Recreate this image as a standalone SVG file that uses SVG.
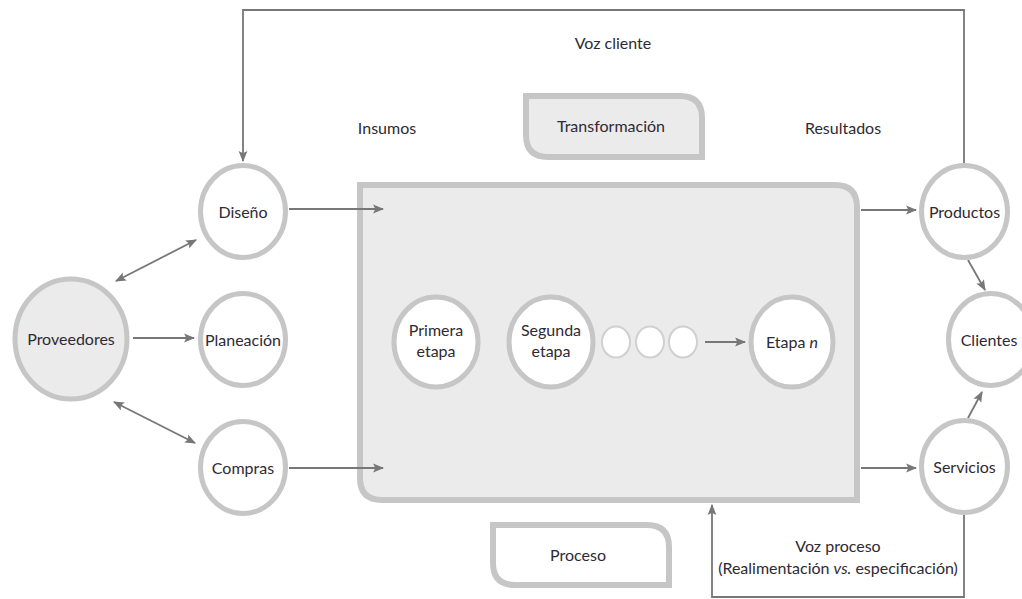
<svg xmlns="http://www.w3.org/2000/svg" width="1022" height="599" viewBox="0 0 1022 599">
  <defs>
    <marker id="ah" viewBox="0 0 10 10" refX="9" refY="5" markerWidth="11" markerHeight="11" markerUnits="userSpaceOnUse" orient="auto-start-reverse">
      <path d="M0,1 L10,5 L0,9 L2,5 Z" fill="#777777"/>
    </marker>
    <style>
      .node { fill: #ffffff; stroke: #c6c6c6; stroke-width: 5; }
      .shaded { fill: #ebebeb; stroke: #c6c6c6; stroke-width: 5; }
      .tag { stroke: #c6c6c6; stroke-width: 6; }
      .dot { fill: #ffffff; stroke: #d0d0d0; stroke-width: 2; }
      .lbl { font-family: Lato, "Liberation Sans", sans-serif; font-size: 16px; fill: #2e2a33; text-anchor: middle; }
      .conn { fill: none; stroke: #777777; stroke-width: 1.8; }
    </style>
  </defs>

  <rect width="1022" height="599" fill="#ffffff"/>

  <!-- transformation process block -->
  <g id="proceso-caja">
    <path class="tag" fill="#ebebeb" d="M360,185 H835 Q857,185 857,207 V500 H382 Q360,500 360,478 Z"/>
  </g>

  <!-- section tags -->
  <g id="transformacion">
    <path class="tag" fill="#ebebeb" d="M526,96 H680 Q702,96 702,118 V157 H548 Q526,157 526,135 Z"/>
    <text class="lbl" x="611" y="132">Transformación</text>
  </g>
  <g id="proceso">
    <path class="tag" fill="#ffffff" d="M493,525 H647 Q669,525 669,547 V585 H515 Q493,585 493,563 Z"/>
    <text class="lbl" x="578" y="561">Proceso</text>
  </g>

  <!-- free labels -->
  <g id="etiquetas">
    <text class="lbl" x="613" y="49">Voz cliente</text>
    <text class="lbl" x="387" y="134">Insumos</text>
    <text class="lbl" x="843" y="134">Resultados</text>
    <text class="lbl" x="838" y="552">Voz proceso</text>
    <text class="lbl" x="838" y="574">(Realimentación <tspan font-style="italic">vs.</tspan> especificación)</text>
  </g>

  <!-- connectors -->
  <g id="conectores">
    <path class="conn" d="M964,165 V10 H243 V161" marker-end="url(#ah)"/>
    <path class="conn" d="M289,209 H383" marker-end="url(#ah)"/>
    <path class="conn" d="M289,468 H383" marker-end="url(#ah)"/>
    <path class="conn" d="M861,210 H916" marker-end="url(#ah)"/>
    <path class="conn" d="M861,468 H916" marker-end="url(#ah)"/>
    <path class="conn" d="M133,338 H194" marker-end="url(#ah)"/>
    <path class="conn" d="M116,281 L196,240" marker-start="url(#ah)" marker-end="url(#ah)"/>
    <path class="conn" d="M114,402 L195,443" marker-start="url(#ah)" marker-end="url(#ah)"/>
    <path class="conn" d="M968,260 L985,290" marker-end="url(#ah)"/>
    <path class="conn" d="M968,418 L982,392" marker-end="url(#ah)"/>
    <path class="conn" d="M705,342 H745" marker-end="url(#ah)"/>
    <path class="conn" d="M964,514 V597 H712 V505" marker-end="url(#ah)"/>
  </g>

  <!-- input side -->
  <g id="proveedores">
    <ellipse class="shaded" cx="71" cy="339" rx="56" ry="60"/>
    <text class="lbl" x="71" y="345">Proveedores</text>
  </g>
  <g id="diseno">
    <ellipse class="node" cx="243" cy="211.5" rx="42.5" ry="46"/>
    <text class="lbl" x="243" y="218">Diseño</text>
  </g>
  <g id="planeacion">
    <ellipse class="node" cx="243" cy="339.5" rx="42.5" ry="46"/>
    <text class="lbl" x="243" y="346">Planeación</text>
  </g>
  <g id="compras">
    <ellipse class="node" cx="243" cy="467.5" rx="42.5" ry="46"/>
    <text class="lbl" x="243" y="474">Compras</text>
  </g>

  <!-- stages inside the process -->
  <g id="primera-etapa">
    <ellipse class="node" cx="436" cy="342" rx="42" ry="45"/>
    <text class="lbl" x="436" y="336">Primera</text>
    <text class="lbl" x="436" y="357">etapa</text>
  </g>
  <g id="segunda-etapa">
    <ellipse class="node" cx="551" cy="342" rx="42" ry="45"/>
    <text class="lbl" x="551" y="336">Segunda</text>
    <text class="lbl" x="551" y="357">etapa</text>
  </g>
  <g id="etapas-intermedias">
    <ellipse class="dot" cx="616" cy="342" rx="14" ry="15.5"/>
    <ellipse class="dot" cx="650" cy="342" rx="14" ry="15.5"/>
    <ellipse class="dot" cx="683" cy="342" rx="14" ry="15.5"/>
  </g>
  <g id="etapa-n">
    <ellipse class="node" cx="792" cy="342" rx="41" ry="45"/>
    <text class="lbl" x="792" y="348">Etapa <tspan font-style="italic">n</tspan></text>
  </g>

  <!-- output side -->
  <g id="productos">
    <ellipse class="node" cx="964.5" cy="211.5" rx="43" ry="46"/>
    <text class="lbl" x="964.5" y="218">Productos</text>
  </g>
  <g id="clientes">
    <ellipse class="node" cx="991" cy="339.5" rx="42.5" ry="46"/>
    <text class="lbl" x="989" y="346">Clientes</text>
  </g>
  <g id="servicios">
    <ellipse class="node" cx="964.5" cy="466.5" rx="43" ry="46"/>
    <text class="lbl" x="964.5" y="473">Servicios</text>
  </g>
</svg>
